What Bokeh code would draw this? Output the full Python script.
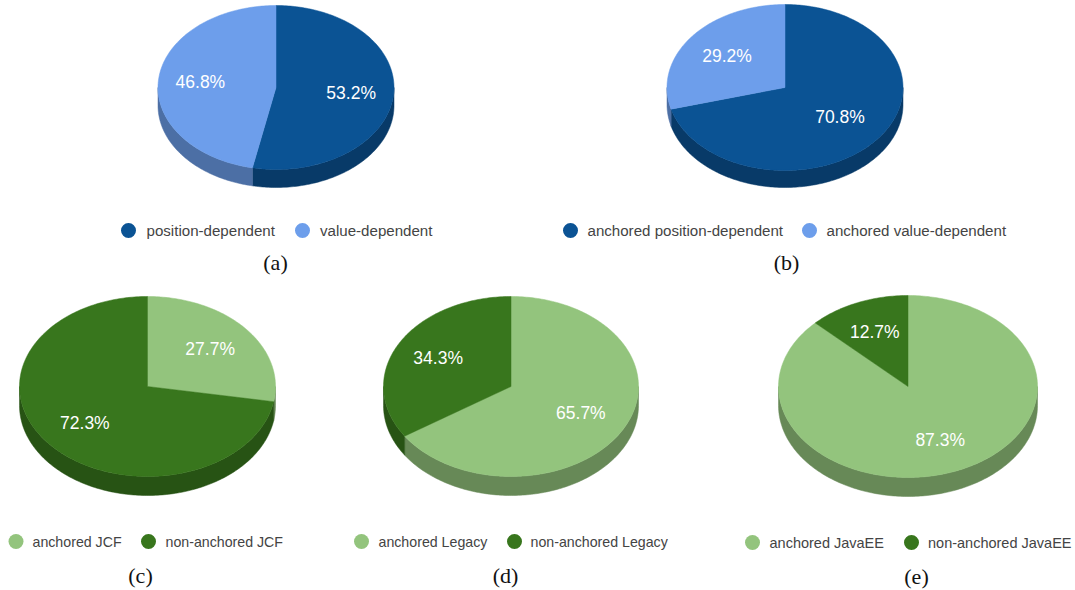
import numpy as np
from bokeh.plotting import figure
from bokeh.embed import file_html
from bokeh.resources import INLINE
from bokeh.models import ColumnDataSource
from bokeh.core.properties import value

# ---- chart values ----
panel_names = ["(a)", "(b)", "(c)", "(d)", "(e)"]
shares_a = [53.2, 46.8]
shares_b = [70.8, 29.2]
shares_c = [27.7, 72.3]
shares_d = [65.7, 34.3]
shares_e = [87.3, 12.7]
labels_a = ["position-dependent", "value-dependent"]
labels_b = ["anchored position-dependent", "anchored value-dependent"]
labels_c = ["anchored JCF", "non-anchored JCF"]
labels_d = ["anchored Legacy", "non-anchored Legacy"]
labels_e = ["anchored JavaEE", "non-anchored JavaEE"]

BLUE_D, BLUE_L = "#0b5394", "#6d9eeb"
GREEN_D, GREEN_L = "#38761d", "#93c47d"
WALL = {BLUE_D: "#083a68", BLUE_L: "#4c6fa5", GREEN_D: "#275314", GREEN_L: "#678957"}

# ---- layout (page pixels) ----
panels = [
    dict(name=panel_names[0], s=shares_a, l=labels_a, c=[BLUE_D, BLUE_L], cx=275.5, cy=87, rx=118, ry=82, d=18,
         dots=[128, 302], tx=[146, 319.5], ly=230, cap=(275, 261.5), fs="15.1px", nudge=[(0, 0), (-0.5, 0)]),
    dict(name=panel_names[1], s=shares_b, l=labels_b, c=[BLUE_D, BLUE_L], cx=784.5, cy=87, rx=118, ry=83, d=17,
         dots=[570, 809], tx=[587, 826], ly=230, cap=(786, 261.5), fs="15.1px", nudge=[(-5, -3), (2, 1)]),
    dict(name=panel_names[2], s=shares_c, l=labels_c, c=[GREEN_L, GREEN_D], cx=147, cy=386, rx=128, ry=90, d=19,
         dots=[15.5, 148], tx=[32, 165], ly=541, cap=(140, 574.5), fs="14.2px", nudge=[(0, 0), (0, -1)]),
    dict(name=panel_names[3], s=shares_d, l=labels_d, c=[GREEN_L, GREEN_D], cx=510.5, cy=386, rx=127.5, ry=90, d=19,
         dots=[361, 514], tx=[378, 530], ly=541, cap=(505, 574.5), fs="14.2px", nudge=[(-2, -1), (-1, -1)]),
    dict(name=panel_names[4], s=shares_e, l=labels_e, c=[GREEN_L, GREEN_D], cx=907.5, cy=386, rx=129.5, ry=91, d=19,
         dots=[752, 911], tx=[769, 927.5], ly=542, cap=(916, 575.5), fs="14.5px", nudge=[(0, 0), (-1, -1)]),
]

W, H = 1075, 590
p = figure(width=W, height=H, x_range=(0, W), y_range=(H, 0),
           output_backend="svg", toolbar_location=None, min_border=0,
           background_fill_color="white", border_fill_color="white")
p.axis.visible = False
p.grid.visible = False
p.outline_line_color = None


def arc(P, a0, a1):
    t = np.radians(np.linspace(a0, a1, max(3, int(abs(a1 - a0)) + 2)))
    return P["cx"] + P["rx"] * np.sin(t), P["cy"] - P["ry"] * np.cos(t)


walls = dict(x=[], y=[], c=[])
tops = dict(x=[], y=[], c=[])
dot = dict(x=[], y=[], c=[])
pct = dict(x=[], y=[], t=[])
leg = dict(x=[], y=[], t=[], fs=[])
cap = dict(x=[], y=[], t=[])

for P in panels:
    start = 0.0
    for share, colour, name, dx, tx, (nx, ny) in zip(P["s"], P["c"], P["l"], P["dots"], P["tx"], P["nudge"]):
        end = start + share * 3.6
        xs, ys = arc(P, start, end)
        tops["x"].append(np.r_[P["cx"], xs])
        tops["y"].append(np.r_[P["cy"], ys])
        tops["c"].append(colour)
        lo, hi = max(start, 90), min(end, 270)
        if hi > lo:
            wx, wy = arc(P, lo, hi)
            walls["x"].append(np.r_[wx, wx[::-1]])
            walls["y"].append(np.r_[wy, wy[::-1] + P["d"]])
            walls["c"].append(WALL[colour])
        mid = np.radians((start + end) / 2)
        pct["x"].append(P["cx"] + 0.64 * P["rx"] * np.sin(mid) + nx)
        pct["y"].append(P["cy"] - 0.64 * P["ry"] * np.cos(mid) + ny)
        pct["t"].append(f"{share:.1f}%")
        dot["x"].append(dx); dot["y"].append(P["ly"]); dot["c"].append(colour)
        leg["x"].append(tx); leg["y"].append(P["ly"]); leg["t"].append(name); leg["fs"].append(P["fs"])
        start = end
    cap["x"].append(P["cap"][0]); cap["y"].append(P["cap"][1]); cap["t"].append(P["name"])

p.patches("x", "y", source=ColumnDataSource(walls), fill_color="c", line_color="c", line_width=0.5)
p.patches("x", "y", source=ColumnDataSource(tops), fill_color="c", line_color="c", line_width=0.5)
p.scatter("x", "y", source=ColumnDataSource(dot), size=15, fill_color="c", line_color=None)
p.text("x", "y", "t", source=ColumnDataSource(pct), text_color="white", text_font=value("Liberation Sans"),
       text_font_size="17.5px", text_align="center", text_baseline="middle")
p.text("x", "y", "t", source=ColumnDataSource(leg), text_color="#444444", text_font=value("Liberation Sans"),
       text_font_size="fs", text_align="left", text_baseline="middle")
p.text("x", "y", "t", source=ColumnDataSource(cap), text_color="#111111", text_font=value("Liberation Serif"),
       text_font_size="22px", text_align="center", text_baseline="middle")

open("out.html", "w").write(file_html(p, INLINE))
